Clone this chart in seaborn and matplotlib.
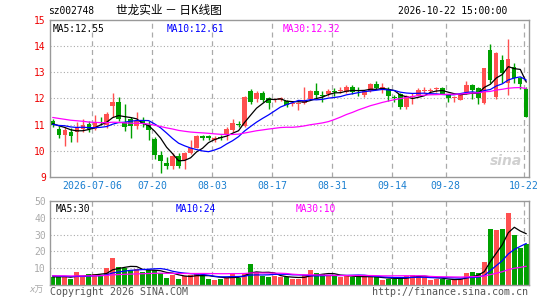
import numpy as np
import pandas as pd
import matplotlib
matplotlib.use("Agg")
import matplotlib.pyplot as plt
import seaborn as sns

# ---------------- data ----------------
opens = [11.15, 10.85, 10.62, 10.72, 10.72, 10.85, 11.03, 10.83, 11.15, 11.00,
         11.70, 11.85, 11.10, 11.20, 10.95, 11.15, 10.98, 10.45, 9.83, 9.52,
         9.42, 9.80, 9.65, 9.90, 10.12, 10.55, 10.55, 10.42, 10.52, 10.63,
         10.80, 11.03, 10.95, 12.30, 11.97, 12.20, 12.00, 11.93, 11.95, 11.90,
         11.80, 11.80, 11.83, 11.97, 12.30, 12.12, 12.15, 12.25, 12.30, 12.25,
         12.45, 12.30, 12.12, 12.30, 12.55, 12.38, 12.36, 12.05, 12.18, 11.68,
         12.05, 12.13, 12.30, 12.28, 12.35, 12.38, 12.15, 12.00, 11.95, 12.25,
         12.50, 12.40, 11.84, 13.85, 12.07, 13.47, 12.57, 13.19, 12.77, 12.35]
highs = [11.20, 10.95, 10.90, 10.87, 11.10, 11.20, 11.15, 11.35, 11.30, 11.50,
         12.20, 12.05, 11.80, 11.30, 11.50, 11.30, 11.15, 10.53, 10.00, 9.75,
         9.90, 9.90, 9.95, 10.40, 10.60, 10.62, 10.62, 10.55, 10.62, 10.90,
         11.20, 11.15, 12.10, 12.35, 12.30, 12.30, 12.05, 12.03, 12.05, 11.95,
         11.88, 11.87, 12.45, 12.32, 12.60, 12.30, 12.35, 12.40, 12.45, 12.50,
         12.50, 12.42, 12.30, 12.60, 12.65, 12.60, 12.45, 12.13, 12.20, 12.12,
         12.20, 12.40, 12.42, 12.40, 12.45, 12.45, 12.15, 12.10, 12.20, 12.65,
         12.55, 12.45, 13.17, 14.08, 13.78, 13.66, 14.27, 13.34, 12.83, 12.43]
lows = [10.90, 10.50, 10.20, 10.35, 10.35, 10.72, 10.70, 10.80, 10.98, 10.88,
        11.30, 11.15, 10.75, 10.48, 10.85, 10.90, 10.40, 9.70, 9.15, 9.32,
        9.32, 9.35, 9.32, 9.88, 10.10, 10.42, 10.42, 10.35, 10.40, 10.40,
        10.72, 10.90, 10.90, 11.80, 11.85, 11.85, 11.60, 11.85, 11.90, 11.68,
        11.70, 11.55, 11.80, 11.95, 12.03, 11.88, 12.10, 12.10, 12.20, 12.20,
        12.15, 12.10, 12.05, 12.25, 12.35, 12.20, 11.90, 11.88, 11.58, 11.60,
        11.80, 12.10, 12.20, 12.20, 12.25, 12.15, 11.85, 11.85, 11.93, 12.15,
        11.98, 11.80, 11.80, 12.57, 11.97, 12.57, 12.13, 12.57, 12.35, 11.28]
closes = [10.98, 10.60, 10.78, 10.55, 10.90, 11.00, 10.83, 11.10, 11.12, 11.40,
          11.88, 11.22, 10.90, 10.95, 11.15, 11.03, 10.78, 9.83, 9.62, 9.42,
          9.80, 9.42, 9.90, 10.12, 10.55, 10.50, 10.50, 10.47, 10.48, 10.85,
          11.05, 10.98, 12.05, 11.85, 12.20, 11.93, 11.83, 11.97, 12.00, 11.75,
          11.83, 11.82, 11.90, 12.30, 12.13, 12.10, 12.30, 12.23, 12.33, 12.42,
          12.23, 12.28, 12.27, 12.55, 12.40, 12.42, 12.10, 12.02, 11.68, 12.10,
          12.08, 12.33, 12.32, 12.31, 12.37, 12.18, 12.00, 12.03, 12.12, 12.52,
          12.32, 12.00, 13.15, 12.70, 13.73, 12.98, 13.50, 12.77, 12.55, 11.30]
volumes = [5.1, 5.0, 5.0, 3.9, 7.9, 5.5, 6.7, 6.7, 6.1, 10.0,
           16.3, 10.6, 10.0, 9.0, 9.5, 8.0, 9.0, 9.0, 7.5, 4.5,
           6.0, 4.0, 5.5, 6.0, 7.0, 6.0, 4.0, 3.0, 4.0, 5.0,
           7.0, 4.5, 7.5, 12.5, 8.0, 5.5, 5.0, 5.5, 4.8, 4.8,
           4.0, 4.0, 6.0, 9.0, 7.0, 6.7, 6.0, 5.5, 5.0, 5.5,
           5.0, 5.0, 5.0, 5.0, 5.0, 3.0, 3.5, 4.0, 5.0, 5.5,
           6.0, 5.5, 5.0, 3.0, 3.5, 4.0, 3.0, 3.5, 3.5, 7.5,
           8.0, 7.5, 14.0, 33.0, 32.5, 33.0, 43.0, 30.0, 21.8, 24.5]
# closes / volumes before the visible window (only used for the moving averages)
hist_closes = [11.70, 11.80, 11.60, 11.50, 11.60, 11.70, 11.50, 11.40, 11.50, 11.30,
               11.40, 11.50, 11.30, 11.20, 11.30, 11.40, 11.20, 11.10, 11.00, 11.10,
               11.00, 10.90, 11.00, 11.10, 10.90, 11.00, 11.10, 11.00, 11.10]
hist_volumes = [6.5, 5.5, 6.0, 7.0, 5.0, 5.5, 6.0, 4.5, 5.0, 6.5,
                5.5, 5.0, 6.0, 5.5, 4.5, 6.0, 5.0, 5.5, 6.5, 6.0,
                7.5, 5.5, 6.0, 7.0, 5.5, 5.0, 4.5, 5.5, 5.0]
date_labels = ["2026-07-06", "07-20", "08-03", "08-17", "08-31", "09-14", "09-28", "10-22"]
date_index = [7, 17, 27, 37, 47, 57, 66, 79]
price_ticks = [9, 10, 11, 12, 13, 14, 15]
vol_ticks = [10, 20, 30, 40, 50]
price_ma_labels = ["MA5:12.55", "MA10:12.61", "MA30:12.32"]
vol_ma_labels = ["MA5:30", "MA10:24", "MA30:10"]
stock_code = "sz002748"
title_text = "世龙实业 － 日K线图"
time_text = "2026-10-22 15:00:00"

# ---------------- derived ----------------
n = len(closes)
idx = np.arange(n)
df = pd.DataFrame({"i": idx, "open": opens, "high": highs, "low": lows,
                   "close": closes, "vol": volumes})
allc = pd.Series(hist_closes + closes)
allv = pd.Series(hist_volumes + volumes)
h = len(hist_closes)
for w in (5, 10, 30):
    df[f"ma{w}"] = allc.rolling(w).mean().values[h:]
    df[f"vma{w}"] = allv.rolling(w).mean().values[h:]

RED = "#ff5050"
GREEN = "#00a000"
df["color"] = np.where(df["close"] >= df["open"], RED, GREEN)
ma_colors = ["black", "#0000ff", "#ff00ff"]

sns.set_theme(style="white")
plt.rcParams["font.family"] = ["DejaVu Sans Mono", "Noto Sans CJK SC"]

fig = plt.figure(figsize=(5.45, 3.0), dpi=100)
W, H = 545.0, 300.0
axp = fig.add_axes([50 / W, (H - 177) / H, 479 / W, 157.2 / H])
axv = fig.add_axes([50 / W, (H - 285.3) / H, 479 / W, 84.6 / H])

xlim = (-0.45, n - 0.55)
grid_c = "#aaaaaa"

for ax in (axp, axv):
    ax.set_xlim(*xlim)
    for s in ax.spines.values():
        s.set_color("#999999")
        s.set_linewidth(1.0)
    for p in date_index:
        ax.axvline(p - 0.42, color=grid_c, ls=(0, (4, 3)), lw=0.9, zorder=0)
    ax.tick_params(axis="y", length=0, pad=3)

# ---- price panel ----
axp.set_ylim(9, 15)
for y in price_ticks[1:-1]:
    axp.axhline(y, color=grid_c, ls=(0, (1, 2)), lw=0.8, zorder=0)
axp.vlines(df["i"], df["low"], df["high"], colors=df["color"], lw=1.0, zorder=2)
body_b = np.minimum(df["open"], df["close"])
body_h = np.maximum(np.abs(df["close"] - df["open"]), 0.035)
axp.bar(df["i"], body_h, bottom=body_b, width=0.72, color=df["color"],
        linewidth=0, zorder=3)
for w, c in zip((5, 10, 30), ma_colors):
    sns.lineplot(data=df, x="i", y=f"ma{w}", ax=axp, color=c, lw=0.9, zorder=4)
axp.set_xlabel("")
axp.set_ylabel("")
axp.set_xticks([])
axp.set_xlim(*xlim)
axp.set_yticks(price_ticks)
axp.set_yticklabels([str(t) for t in price_ticks], color="#ee0000", fontsize=6.9)

for p, lab in zip(date_index, date_labels):
    axp.text(p - 0.42, -0.057, lab, transform=axp.get_xaxis_transform(),
             ha="center", va="center", color="#1a7fd0", fontsize=7.1)

for xf, lab, c in zip((0.005, 0.243, 0.485), price_ma_labels, ma_colors):
    axp.text(xf, 0.975, lab, transform=axp.transAxes, ha="left", va="top",
             color=c, fontsize=6.9)
axp.text(0.985, 0.10, "sina", transform=axp.transAxes, ha="right", va="center",
         color="#d0d0d0", fontsize=10, fontstyle="italic", fontweight="bold",
         family="DejaVu Sans")

# ---- volume panel ----
axv.set_ylim(0, 50)
for y in vol_ticks[:-1]:
    axv.axhline(y, color=grid_c, ls=(0, (1, 2)), lw=0.8, zorder=0)
axv.bar(df["i"], df["vol"], width=0.8, color=df["color"], linewidth=0, zorder=2)
for w, c in zip((5, 10, 30), ma_colors):
    sns.lineplot(data=df, x="i", y=f"vma{w}", ax=axv, color=c, lw=0.9, zorder=4)
axv.set_xlabel("")
axv.set_ylabel("")
axv.set_xticks([])
axv.set_xlim(*xlim)
axv.set_yticks(vol_ticks)
axv.set_yticklabels([str(t) for t in vol_ticks], color="#aaaaaa", fontsize=7)
for xf, lab, c in zip((0.012, 0.262, 0.512), vol_ma_labels, ma_colors):
    axv.text(xf, 0.96, lab, transform=axv.transAxes, ha="left", va="top",
             color=c, fontsize=6.9)

# ---- header / footer texts ----
fig.text(48 / W, 1 - 11 / H, stock_code, ha="left", va="center", fontsize=6.9, color="black")
fig.text(116 / W, 1 - 10.5 / H, title_text, ha="left", va="center", fontsize=8.4,
         color="black", family=["Noto Sans CJK SC", "DejaVu Sans"])
fig.text(507 / W, 1 - 11 / H, time_text, ha="right", va="center", fontsize=6.9, color="black")
fig.text(50 / W, 1 - 292 / H, "Copyright 2026 SINA.COM", ha="left", va="center",
         fontsize=7.2, color="#555555")
fig.text(528 / W, 1 - 292 / H, "http://finance.sina.com.cn", ha="right", va="center",
         fontsize=7.2, color="#555555")
fig.text(36 / W, 1 - 290 / H, "x万", ha="center", va="center", fontsize=6.5,
         color="#aaaaaa", fontstyle="italic", family=["DejaVu Sans", "Noto Sans CJK SC"])

fig.savefig("out.png", dpi=100, facecolor="white")
